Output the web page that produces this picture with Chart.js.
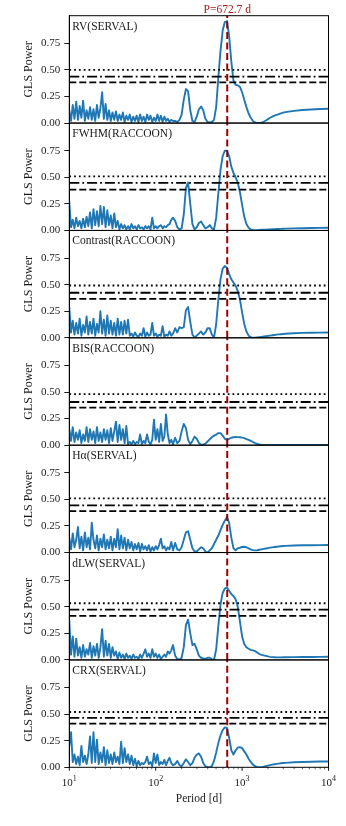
<!DOCTYPE html>
<html><head><meta charset="utf-8">
<script src="https://cdn.jsdelivr.net/npm/chart.js@4/dist/chart.umd.min.js"></script>
<style>
html,body{margin:0;padding:0;background:#fff;}
#wrap{position:relative;width:346px;height:826px;overflow:hidden;}
#wrap canvas{position:absolute;left:0;top:0;}
</style></head><body><div id="wrap"></div>
<script>
// Period grid [d]
const periods = [
10,10.47,10.96,11.48,12.02,12.59,13.18,13.8,14.45,15.14,
15.85,16.6,17.38,18.2,19.05,19.95,20.89,21.88,22.91,23.99,
25.12,26.3,27.54,28.84,30.2,31.62,33.11,34.67,36.31,38.02,
39.81,41.69,43.65,45.71,47.86,50.12,52.48,54.95,57.54,60.26,
63.1,66.07,69.18,72.44,75.86,79.43,83.18,87.1,91.2,95.5,
100,104.7,109.6,114.8,120.2,125.9,131.8,138,144.5,151.4,
158.5,
167.9,177.8,188.4,199.5,211.3,223.9,237.1,251.2,266.1,281.8,
298.5,316.2,335,354.8,375.8,398.1,421.7,446.7,473.2,501.2,
530.9,562.3,595.7,631,668.3,707.9,749.9,794.3,841.4,891.3,
944.1,1000,1059,1122,1189,1259,1334,1413,1496,1585,
1679,1778,1884,1995,2113,2239,2371,2512,2661,2818,
2985,3162,
3981,5012,6310,7943,10000];

const panelLabels = ['RV(SERVAL)','FWHM(RACCOON)','Contrast(RACCOON)','BIS(RACCOON)','H\u03b1(SERVAL)','dLW(SERVAL)','CRX(SERVAL)'];

const rvPower = [
0.12,0.02,0.17,0.04,0.20,0.03,0.16,0.05,0.21,0.02,
0.12,0.04,0.15,0.03,0.13,0.02,0.17,0.05,0.14,0.29,
0.04,0.18,0.03,0.12,0.02,0.10,0.03,0.11,0.02,0.08,
0.03,0.10,0.01,0.07,0.03,0.08,0.01,0.06,0.02,0.07,
0.01,0.08,0.02,0.06,0.01,0.08,0.03,0.07,0.01,0.05,
0.02,0.08,0.02,0.07,0.01,0.06,0.02,0.04,0.01,0.03,
0.02,
0.02,0.01,0.03,0.08,0.22,0.32,0.30,0.12,0.02,0.01,
0.06,0.13,0.155,0.12,0.04,0.01,0.005,0.01,0.03,0.15,
0.43,0.68,0.87,0.95,0.96,0.82,0.58,0.40,0.36,0.355,
0.34,0.29,0.22,0.15,0.09,0.05,0.02,0.005,0.0,0.0,
0.004,0.012,0.024,0.037,0.05,0.061,0.07,0.078,0.085,0.092,
0.098,0.103,
0.115,0.123,0.128,0.132,0.135];

const fwhmPower = [
0.27,0.03,0.10,0.02,0.12,0.04,0.09,0.02,0.11,0.03,
0.13,0.04,0.17,0.02,0.20,0.05,0.18,0.04,0.23,0.06,
0.22,0.03,0.19,0.05,0.14,0.02,0.16,0.03,0.09,0.01,
0.06,0.02,0.05,0.01,0.04,0.01,0.06,0.02,0.04,0.01,
0.05,0.02,0.03,0.01,0.04,0.02,0.04,0.01,0.12,0.02,
0.04,0.02,0.04,0.05,0.02,0.04,0.03,0.05,0.06,0.10,
0.12,
0.09,0.03,0.01,0.02,0.15,0.40,0.45,0.25,0.06,0.01,
0.03,0.07,0.085,0.05,0.02,0.03,0.05,0.02,0.01,0.12,
0.35,0.57,0.70,0.75,0.75,0.70,0.60,0.54,0.50,0.45,
0.36,0.24,0.13,0.06,0.025,0.01,0.005,0.003,0.003,0.005,
0.006,0.007,0.008,0.009,0.01,0.011,0.012,0.013,0.014,0.015,
0.016,0.017,
0.019,0.021,0.023,0.024,0.025];

const contrastPower = [
0.29,0.05,0.16,0.03,0.14,0.04,0.18,0.02,0.12,0.05,
0.20,0.03,0.15,0.04,0.18,0.02,0.13,0.05,0.25,0.04,
0.17,0.02,0.21,0.04,0.16,0.03,0.14,0.02,0.18,0.03,
0.15,0.03,0.16,0.04,0.17,0.02,0.04,0.01,0.05,0.02,
0.01,0.04,0.02,0.09,0.01,0.05,0.02,0.03,0.14,0.02,
0.04,0.01,0.03,0.02,0.11,0.01,0.03,0.02,0.06,0.02,
0.04,
0.09,0.05,0.10,0.09,0.10,0.26,0.29,0.15,0.03,0.005,
0.02,0.04,0.06,0.03,0.05,0.09,0.09,0.03,0.005,0.13,
0.36,0.55,0.65,0.675,0.66,0.60,0.55,0.52,0.49,0.44,
0.36,0.24,0.13,0.06,0.02,0.005,0.0,0.0,0.003,0.006,
0.009,0.012,0.015,0.018,0.021,0.024,0.027,0.03,0.032,0.034,
0.036,0.038,
0.043,0.046,0.048,0.049,0.05];

const bisPower = [
0.15,0.04,0.17,0.03,0.12,0.05,0.14,0.02,0.10,0.04,
0.17,0.03,0.15,0.05,0.13,0.02,0.17,0.04,0.12,0.03,
0.15,0.05,0.14,0.02,0.16,0.04,0.13,0.22,0.03,0.19,
0.05,0.15,0.02,0.18,0.01,0.03,0.01,0.04,0.01,0.03,
0.02,0.10,0.01,0.04,0.02,0.10,0.03,0.01,0.05,0.24,
0.05,0.15,0.03,0.20,0.04,0.08,0.29,0.10,0.02,0.05,
0.01,
0.07,0.02,0.04,0.13,0.20,0.16,0.05,0.01,0.04,0.08,
0.06,0.02,0.005,0.005,0.015,0.035,0.055,0.075,0.09,0.10,
0.113,0.113,0.09,0.06,0.05,0.06,0.07,0.075,0.077,0.076,
0.074,0.071,0.066,0.058,0.05,0.04,0.03,0.02,0.012,0.007,
0.004,0.003,0.002,0.002,0.002,0.002,0.002,0.002,0.002,0.002,
0.002,0.002,
0.002,0.003,0.003,0.003,0.003];

const haPower = [
0.14,0.03,0.18,0.05,0.12,0.24,0.04,0.15,0.02,0.19,
0.05,0.14,0.03,0.28,0.12,0.04,0.16,0.02,0.13,0.05,
0.17,0.03,0.12,0.04,0.15,0.02,0.13,0.05,0.22,0.03,
0.16,0.04,0.14,0.02,0.12,0.04,0.10,0.02,0.08,0.03,
0.09,0.01,0.08,0.03,0.06,0.02,0.07,0.01,0.05,0.02,
0.06,0.03,0.07,0.13,0.04,0.06,0.02,0.05,0.03,0.10,
0.02,
0.09,0.03,0.02,0.05,0.12,0.19,0.20,0.12,0.04,0.01,
0.01,0.03,0.05,0.04,0.01,0.0,0.02,0.04,0.08,0.12,
0.16,0.21,0.26,0.30,0.335,0.28,0.14,0.04,0.02,0.04,
0.045,0.052,0.055,0.05,0.04,0.03,0.023,0.02,0.022,0.026,
0.03,0.034,0.038,0.042,0.046,0.049,0.052,0.055,0.057,0.059,
0.061,0.063,
0.066,0.068,0.069,0.07,0.071];

const dlwPower = [
0.37,0.05,0.22,0.03,0.20,0.04,0.12,0.02,0.14,0.03,
0.10,0.05,0.16,0.02,0.13,0.04,0.15,0.02,0.12,0.29,
0.03,0.18,0.04,0.15,0.02,0.12,0.04,0.08,0.01,0.07,
0.02,0.05,0.01,0.06,0.02,0.04,0.01,0.05,0.02,0.03,
0.01,0.05,0.02,0.06,0.10,0.03,0.06,0.02,0.10,0.03,
0.06,0.02,0.05,0.01,0.03,0.05,0.03,0.08,0.06,0.09,
0.14,
0.04,0.01,0.0,0.02,0.12,0.33,0.38,0.25,0.14,0.15,
0.10,0.04,0.02,0.015,0.01,0.02,0.02,0.005,0.0,0.10,
0.32,0.52,0.63,0.67,0.68,0.65,0.62,0.60,0.57,0.50,
0.36,0.22,0.15,0.12,0.105,0.095,0.09,0.083,0.07,0.055,
0.048,0.043,0.038,0.033,0.029,0.026,0.025,0.024,0.024,0.024,
0.025,0.025,
0.026,0.027,0.028,0.029,0.03];

const crxPower = [
0.20,0.33,0.05,0.12,0.03,0.10,0.02,0.20,0.05,0.11,
0.03,0.12,0.29,0.04,0.33,0.05,0.26,0.03,0.14,0.05,
0.19,0.02,0.16,0.04,0.12,0.03,0.14,0.05,0.10,0.03,
0.24,0.04,0.18,0.05,0.12,0.03,0.11,0.02,0.08,0.01,
0.06,0.02,0.04,0.03,0.05,0.10,0.03,0.05,0.01,0.13,
0.04,0.12,0.02,0.05,0.03,0.07,0.02,0.06,0.09,0.04,
0.02,
0.03,0.06,0.02,0.01,0.04,0.075,0.05,0.02,0.04,0.09,
0.12,0.13,0.10,0.04,0.01,0.0,0.0,0.01,0.06,0.14,
0.23,0.30,0.35,0.375,0.37,0.28,0.16,0.12,0.16,0.185,
0.19,0.18,0.15,0.12,0.08,0.05,0.025,0.01,0.003,0.0,
0.002,0.006,0.011,0.016,0.021,0.025,0.029,0.032,0.035,0.038,
0.04,0.042,
0.047,0.05,0.052,0.054,0.055];

// False-alarm levels per panel
const fapDotted  = [0.500, 0.509, 0.492, 0.480, 0.509, 0.533, 0.520];
const fapDashDot = [0.436, 0.447, 0.424, 0.406, 0.443, 0.474, 0.464];
const fapDashed  = [0.383, 0.384, 0.367, 0.353, 0.390, 0.415, 0.410];

const peakPeriod = 672.7;
const peakLabel = 'P=672.7 d';
const yTicks = [0, 0.25, 0.5, 0.75];
const xMajor = [10, 100, 1000, 10000];
const xMajorExp = ['1', '2', '3', '4'];
const xMinor = [20,30,40,50,60,70,80,90,200,300,400,500,600,700,800,900,2000,3000,4000,5000,6000,7000,8000,9000];

const powers = [rvPower, fwhmPower, contrastPower, bisPower, haPower, dlwPower, crxPower];

const W = 346, H = 826, LEFT = 69.3, RIGHT = 328.5, TOP = 15.7, PH = 107.37, YMAX = 1.01;
const SERIF = '"Liberation Serif", "Times New Roman", serif';
const BLUE = '#1f77b4';

const panelPlugin = {
  id: 'panel',
  afterDraw(chart, args, opts) {
    const ctx = chart.ctx, a = chart.chartArea, x = chart.scales.x;
    const i = opts.idx;
    ctx.save();
    ctx.strokeStyle = '#000'; ctx.lineWidth = 1;
    ctx.strokeRect(a.left, a.top, a.right - a.left, a.bottom - a.top);
    ctx.fillStyle = '#1a1a1a';
    ctx.font = '11.5px ' + SERIF;
    ctx.textAlign = 'left'; ctx.textBaseline = 'alphabetic';
    ctx.fillText(panelLabels[i], a.left + 3, a.top + 14);
    ctx.save();
    ctx.translate(29, (a.top + a.bottom) / 2);
    ctx.rotate(-Math.PI / 2);
    ctx.font = '12px ' + SERIF;
    ctx.textAlign = 'center'; ctx.textBaseline = 'middle';
    ctx.fillText('GLS Power', 0, 0);
    ctx.restore();
    if (i === 0) {
      ctx.fillStyle = '#a0201c';
      ctx.font = '11.5px ' + SERIF;
      ctx.textAlign = 'center';
      ctx.fillText(peakLabel, x.getPixelForValue(peakPeriod), 13);
    }
    if (i === powers.length - 1) {
      ctx.strokeStyle = '#000';
      xMajor.forEach((v) => {
        const px = x.getPixelForValue(v);
        ctx.lineWidth = 0.9;
        ctx.beginPath(); ctx.moveTo(px, a.bottom); ctx.lineTo(px, a.bottom + 3.5); ctx.stroke();
      });
      xMinor.forEach((v) => {
        const px = x.getPixelForValue(v);
        ctx.lineWidth = 0.6;
        ctx.beginPath(); ctx.moveTo(px, a.bottom); ctx.lineTo(px, a.bottom + 2); ctx.stroke();
      });
      ctx.fillStyle = '#1a1a1a';
      ctx.textAlign = 'left';
      xMajor.forEach((v, k) => {
        const px = x.getPixelForValue(v);
        ctx.font = '11px ' + SERIF;
        const w1 = ctx.measureText('10').width;
        ctx.font = '8px ' + SERIF;
        const w2 = ctx.measureText(xMajorExp[k]).width;
        const x0 = px - (w1 + w2) / 2;
        ctx.font = '11px ' + SERIF;
        ctx.fillText('10', x0, a.bottom + 18.5);
        ctx.font = '8px ' + SERIF;
        ctx.fillText(xMajorExp[k], x0 + w1, a.bottom + 14);
      });
      ctx.font = '11.5px ' + SERIF;
      ctx.textAlign = 'center';
      ctx.fillText('Period [d]', (a.left + a.right) / 2, a.bottom + 34.5);
    }
    ctx.restore();
  }
};

const wrap = document.getElementById('wrap');
powers.forEach((pw, i) => {
  const cv = document.createElement('canvas');
  cv.width = W; cv.height = H;
  cv.style.width = W + 'px'; cv.style.height = H + 'px';
  wrap.appendChild(cv);
  const top = TOP + i * PH, bottom = top + PH;
  const hline = (v, dash, ord) => ({
    data: [{x: 10, y: v}, {x: 10000, y: v}],
    borderColor: '#000', borderWidth: 1.8, borderDash: dash,
    pointRadius: 0, order: ord
  });
  new Chart(cv, {
    type: 'line',
    data: {
      datasets: [
        { data: periods.map((p, j) => ({x: p, y: pw[j]})), borderColor: BLUE, borderWidth: 1.9,
          borderJoinStyle: 'round', pointRadius: 0, tension: 0, order: 5 },
        hline(fapDotted[i], [1.8, 3], 4),
        hline(fapDashDot[i], [10, 3, 1.8, 3], 3),
        hline(fapDashed[i], [7, 3], 2),
        { data: [{x: peakPeriod, y: 0}, {x: peakPeriod, y: YMAX}], borderColor: '#990000',
          borderWidth: 2, borderDash: [7, 3.5], pointRadius: 0, order: 1 }
      ]
    },
    options: {
      responsive: false, animation: false, devicePixelRatio: 1,
      events: [],
      layout: { padding: { top: top, bottom: H - bottom, left: 0, right: W - RIGHT } },
      plugins: { legend: { display: false }, tooltip: { enabled: false }, panel: { idx: i } },
      scales: {
        x: { type: 'logarithmic', min: 10, max: 10000, display: false },
        y: {
          min: 0, max: YMAX,
          afterFit(s) { s.width = LEFT; },
          afterBuildTicks(s) { s.ticks = yTicks.map(v => ({ value: v })); },
          ticks: { callback: v => Number(v).toFixed(2), font: { family: SERIF, size: 11 }, color: '#1a1a1a', padding: 4, autoSkip: false },
          grid: { drawOnChartArea: false, drawTicks: true, tickLength: 5, color: '#000', tickWidth: 0.9 },
          border: { display: true, color: '#000', width: 1 }
        }
      }
    },
    plugins: [panelPlugin]
  });
});
</script>
</body></html>
